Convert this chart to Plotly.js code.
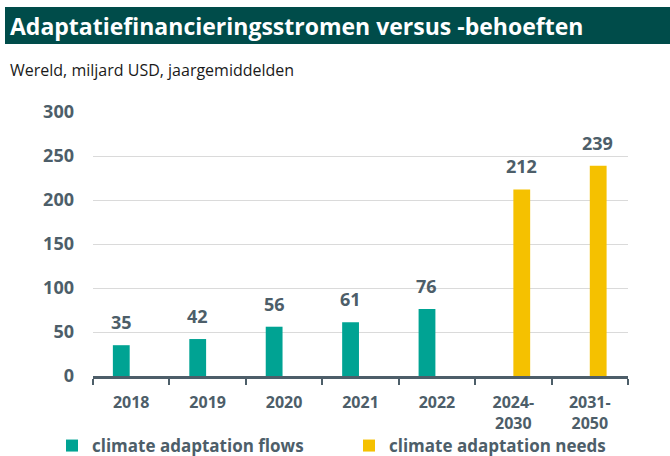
<!DOCTYPE html>
<html><head><meta charset="utf-8">
<script src="https://cdn.plot.ly/plotly-3.0.1.min.js"></script>
<style>html,body{margin:0;padding:0;background:#fff}#c{width:670px;height:456px}</style>
</head><body><div id="c"></div>
<script>
const categories = ["2018","2019","2020","2021","2022","2024-<br>2030","2031-<br>2050"];
const flowCats = ["2018","2019","2020","2021","2022"];
const flowValues = [35,42,56,61,76];
const needCats = ["2024-<br>2030","2031-<br>2050"];
const needValues = [212,239];
const yTicks = [0,50,100,150,200,250,300];
const seriesNames = ["climate adaptation flows","climate adaptation needs"];

const slate = "#4d5e69";
const font = "Open Sans";
const labelFont = {family: font, size: 18, color: slate, weight: 700};
const flowColor = "#00a393", needColor = "#f5c100";

const traces = [
  {type:"bar", name: seriesNames[0], x: flowCats, y: flowValues, marker:{color:flowColor},
   width:0.22, offset:-0.24, legend:"legend", showlegend:true, hoverinfo:"none"},
  {type:"bar", name: seriesNames[1], x: needCats, y: needValues, marker:{color:needColor},
   width:0.22, offset:0.0, legend:"legend2", showlegend:true, hoverinfo:"none"}
];

// value labels placed at the category index (numeric position on the category axis)
function labels(cats, vals, xshift) {
  return cats.map((c, i) => ({x: categories.indexOf(c), y: vals[i], xref:"x", yref:"y", text: String(vals[i]),
    showarrow:false, xanchor:"center", yanchor:"bottom", xshift: xshift, yshift: 9, font: labelFont}));
}

const legendFont = {family:font, size:17, color:slate, weight:700};
const layout = {
  width:670, height:456,
  showlegend:true,
  margin:{l:93, r:42, t:112, b:80},
  paper_bgcolor:"#fff", plot_bgcolor:"#fff",
  barmode:"overlay",
  font:{family:font, color:slate},
  title:{text:"Adaptatiefinancieringsstromen versus -behoeften", x:10/670, xanchor:"left", xref:"container",
         y:1-27/456, yanchor:"middle", yref:"container", automargin:false,
         font:{family:font, size:23, color:"#ffffff", weight:700}},
  xaxis:{type:"category", categoryorder:"array", categoryarray:categories, automargin:false,
         range:[-0.5, categories.length-0.5],
         showline:true, linecolor:slate, linewidth:3, ticks:"outside", tickson:"boundaries",
         ticklen:6, tickwidth:2, tickcolor:slate, showgrid:false, ticklabelstandoff:10,
         tickfont:{family:font, size:16, color:slate, weight:700}, fixedrange:true},
  yaxis:{range:[0,300], tickvals:yTicks, showgrid:true, gridcolor:"#dadada", gridwidth:1, automargin:false,
         zeroline:false, showline:false, ticks:"", ticklabelstandoff:18,
         tickfont:{family:font, size:18, color:slate, weight:700}, fixedrange:true},
  legend:{orientation:"h", xref:"container", yref:"container", x:52/670, xanchor:"left", y:10/456, yanchor:"middle",
          itemwidth:20, font:legendFont, bgcolor:"rgba(0,0,0,0)"},
  legend2:{orientation:"h", xref:"container", yref:"container", x:349/670, xanchor:"left", y:10/456, yanchor:"middle",
          itemwidth:20, font:legendFont, bgcolor:"rgba(0,0,0,0)"},
  shapes:[{type:"rect", xref:"paper", yref:"paper", x0:(5-93)/535, x1:(672-93)/535,
           y0:(376-44)/264, y1:(376-7)/264, fillcolor:"#004c4a", line:{width:0}, layer:"below"}],
  annotations:[{text:"Wereld, miljard USD, jaargemiddelden", xref:"paper", yref:"paper",
                x:(8-93)/535, y:(376-70)/264, xanchor:"left", yanchor:"middle", showarrow:false,
                font:{family:font, size:16, color:"#1a1a1a"}}]
    .concat(labels(flowCats, flowValues, -10))
    .concat(labels(needCats, needValues, 8))
};
Plotly.newPlot("c", traces, layout, {displayModeBar:false, staticPlot:true});
</script></body></html>
